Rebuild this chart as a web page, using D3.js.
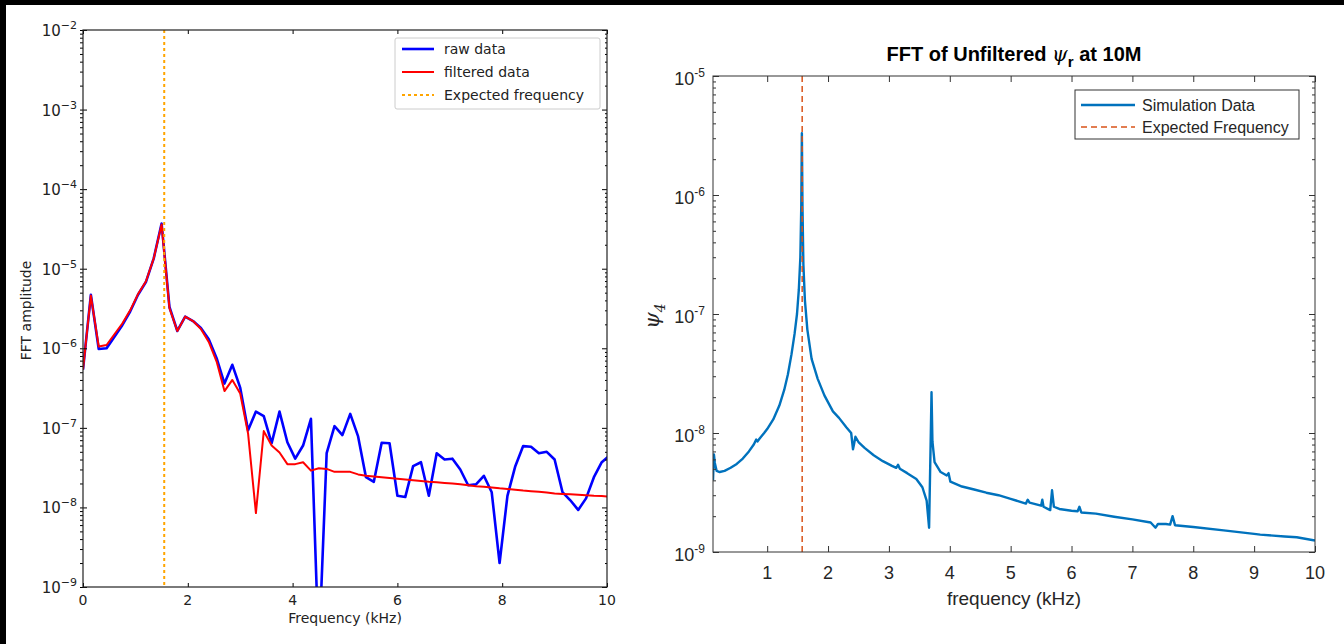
<!DOCTYPE html>
<html>
<head>
<meta charset="utf-8">
<script src="https://cdnjs.cloudflare.com/ajax/libs/d3/7.8.5/d3.min.js"></script>
<style>
body { margin: 0; background: #fff; }
svg { display: block; }
</style>
</head>
<body>
<div id="chart"></div>
<script>
/*
    Chart data
*/
// left panel: FFT bins (kHz), spacing 0.15
var leftFreq = [0.00, 0.15, 0.30, 0.45, 0.60, 0.75, 0.90, 1.05, 1.20, 1.35,
    1.50, 1.65, 1.80, 1.95, 2.10, 2.25, 2.40, 2.55, 2.70, 2.85,
    3.00, 3.15, 3.30, 3.45, 3.60, 3.75, 3.90, 4.05, 4.20, 4.35,
    4.50, 4.65, 4.80, 4.95, 5.10, 5.25, 5.40, 5.55, 5.70, 5.85,
    6.00, 6.15, 6.30, 6.45, 6.60, 6.75, 6.90, 7.05, 7.20, 7.35,
    7.50, 7.65, 7.80, 7.95, 8.10, 8.25, 8.40, 8.55, 8.70, 8.85,
    9.00, 9.15, 9.30, 9.45, 9.60, 9.75, 9.90, 10.05];

var rawData = [5.4e-7, 4.7e-6, 9.8e-7, 1.0e-6, 1.4e-6, 1.95e-6, 2.9e-6, 4.7e-6, 6.8e-6, 1.35e-5,
    3.7e-5, 3.3e-6, 1.65e-6, 2.5e-6, 2.2e-6, 1.8e-6, 1.3e-6, 7.5e-7, 3.6e-7, 6.2e-7,
    3.2e-7, 9.3e-8, 1.6e-7, 1.4e-7, 6.4e-8, 1.6e-7, 6.6e-8, 4.1e-8, 6.0e-8, 1.3e-7,
    1.5e-10, 4.8e-8, 1.05e-7, 8.1e-8, 1.5e-7, 7.8e-8, 2.4e-8, 2.1e-8, 6.5e-8, 6.4e-8,
    1.4e-8, 1.35e-8, 3.3e-8, 3.7e-8, 1.4e-8, 4.8e-8, 4.0e-8, 4.1e-8, 3.0e-8, 1.9e-8,
    1.95e-8, 2.5e-8, 1.55e-8, 2.0e-9, 1.4e-8, 3.3e-8, 5.9e-8, 5.8e-8, 4.8e-8, 5.0e-8,
    4.0e-8, 1.56e-8, 1.23e-8, 9.3e-9, 1.3e-8, 2.4e-8, 3.7e-8, 4.5e-8];

var filteredData = [5.4e-7, 4.6e-6, 1.05e-6, 1.1e-6, 1.5e-6, 2.05e-6, 3.0e-6, 4.8e-6, 6.9e-6, 1.35e-5,
    3.6e-5, 3.2e-6, 1.65e-6, 2.5e-6, 2.2e-6, 1.75e-6, 1.2e-6, 6.8e-7, 2.9e-7, 4.0e-7,
    2.7e-7, 8.5e-8, 8.5e-9, 9.1e-8, 6.0e-8, 4.9e-8, 3.5e-8, 3.5e-8, 3.7e-8, 2.9e-8,
    3.1e-8, 3.05e-8, 2.8e-8, 2.8e-8, 2.8e-8, 2.6e-8, 2.5e-8, 2.45e-8, 2.4e-8, 2.35e-8,
    2.3e-8, 2.25e-8, 2.2e-8, 2.15e-8, 2.1e-8, 2.07e-8, 2.03e-8, 2.0e-8, 1.95e-8, 1.9e-8,
    1.85e-8, 1.82e-8, 1.78e-8, 1.74e-8, 1.71e-8, 1.67e-8, 1.63e-8, 1.6e-8, 1.57e-8, 1.54e-8,
    1.5e-8, 1.48e-8, 1.46e-8, 1.44e-8, 1.42e-8, 1.4e-8, 1.39e-8, 1.37e-8];

var leftExpected = 1.55;
var leftXTicks = [0, 2, 4, 6, 8, 10];
var leftYExps = [-9, -8, -7, -6, -5, -4, -3, -2];
var leftLegend = ["raw data", "filtered data", "Expected frequency"];

// right panel: simulation spectrum
var rightFreq = [0.11, 0.125, 0.14, 0.17, 0.22, 0.30, 0.40, 0.50, 0.60, 0.70,
    0.78, 0.82, 0.84, 0.87, 0.95, 1.00, 1.10, 1.20, 1.28, 1.34,
    1.40, 1.45, 1.49, 1.52, 1.545, 1.56, 1.57, 1.58, 1.595, 1.62,
    1.66, 1.73, 1.83, 1.94, 2.08, 2.18, 2.30, 2.38, 2.41, 2.43,
    2.45, 2.50, 2.60, 2.75, 2.90, 3.05, 3.12, 3.15, 3.18, 3.30,
    3.45, 3.55, 3.62, 3.66, 3.685, 3.70, 3.715, 3.75, 3.85, 3.95,
    3.98, 4.01, 4.20, 4.40, 4.60, 4.80, 5.00, 5.25, 5.28, 5.31,
    5.50, 5.52, 5.54, 5.65, 5.68, 5.71, 5.80, 6.00, 6.10, 6.13,
    6.16, 6.40, 6.70, 7.00, 7.30, 7.38, 7.42, 7.55, 7.62, 7.66,
    7.70, 8.00, 8.50, 9.00, 9.10, 9.50, 9.70, 10.00];

var simData = [4.0e-9, 6.6e-9, 5.6e-9, 4.8e-9, 4.7e-9, 4.8e-9, 5.1e-9, 5.5e-9, 6.1e-9, 7.0e-9,
    8.0e-9, 8.8e-9, 8.5e-9, 8.9e-9, 1.0e-8, 1.08e-8, 1.3e-8, 1.7e-8, 2.3e-8, 3.1e-8,
    4.6e-8, 6.8e-8, 1.0e-7, 1.6e-7, 3.0e-7, 8.0e-7, 3.3e-6, 8.0e-7, 2.6e-7, 1.3e-7,
    7.4e-8, 4.2e-8, 2.85e-8, 2.07e-8, 1.52e-8, 1.34e-8, 1.12e-8, 1.0e-8, 7.3e-9, 8.2e-9,
    9.3e-9, 8.4e-9, 7.5e-9, 6.5e-9, 5.8e-9, 5.3e-9, 5.1e-9, 5.4e-9, 5.0e-9, 4.6e-9,
    4.1e-9, 3.5e-9, 2.7e-9, 1.6e-9, 8.0e-9, 2.2e-8, 8.5e-9, 5.7e-9, 4.7e-9, 4.4e-9,
    4.6e-9, 3.9e-9, 3.55e-9, 3.35e-9, 3.15e-9, 3.0e-9, 2.8e-9, 2.55e-9, 2.75e-9, 2.6e-9,
    2.45e-9, 2.75e-9, 2.4e-9, 2.25e-9, 3.3e-9, 2.4e-9, 2.3e-9, 2.22e-9, 2.2e-9, 2.4e-9,
    2.15e-9, 2.1e-9, 1.98e-9, 1.88e-9, 1.77e-9, 1.6e-9, 1.72e-9, 1.72e-9, 1.7e-9, 2.0e-9,
    1.68e-9, 1.62e-9, 1.52e-9, 1.42e-9, 1.4e-9, 1.35e-9, 1.33e-9, 1.25e-9];

var rightExpected = 1.575;
var rightXTicks = [1, 2, 3, 4, 5, 6, 7, 8, 9, 10];
var rightYExps = [-9, -8, -7, -6, -5];
var rightLegend = ["Simulation Data", "Expected Frequency"];

/*
    Page size and the two plot boxes
*/
var width = 1344;
var height = 644;
var leftBox = { left: 83, right: 607, top: 30, bottom: 587 };
var rightBox = { left: 713, right: 1315, top: 76, bottom: 552 };

var svg = d3.select("#chart")
    .append("svg")
    .attr("width", width)
    .attr("height", height);

svg.append("rect").attr("width", width).attr("height", height).attr("fill", "#fff");

// black edges of the screenshot
svg.append("rect").attr("x", 0).attr("y", 0).attr("width", width).attr("height", 5).attr("fill", "#000");
svg.append("rect").attr("x", 0).attr("y", 0).attr("width", 6).attr("height", height).attr("fill", "#000");

/* minor tick values for a log axis between two decades */
function minorTicks(lo, hi) {
    var out = [];
    for (var e = lo; e < hi; e++) {
        for (var m = 2; m <= 9; m++) out.push(m * Math.pow(10, e));
    }
    return out;
}

function supLabel(g, x, y, exp, base, sup, font, minus, dy) {
    var t = g.append("text")
        .attr("x", x)
        .attr("y", y)
        .attr("text-anchor", "end")
        .style("font-family", font)
        .attr("fill", g.attr("data-color") || "#000");
    t.append("tspan").style("font-size", base + "px").text("10");
    t.append("tspan").attr("dy", dy).style("font-size", sup + "px").text(minus + Math.abs(exp));
}

/*
    LEFT PANEL (matplotlib style)
*/
var lx = d3.scaleLinear().domain([0, 10]).range([leftBox.left, leftBox.right]);
var ly = d3.scaleLog().domain([1e-9, 1e-2]).range([leftBox.bottom, leftBox.top]);
var leftFont = "'DejaVu Sans', sans-serif";

var left = svg.append("g").attr("class", "left-panel").attr("data-color", "#222");

left.append("clipPath").attr("id", "clipLeft")
    .append("rect")
    .attr("x", leftBox.left).attr("y", leftBox.top)
    .attr("width", leftBox.right - leftBox.left)
    .attr("height", leftBox.bottom - leftBox.top);

var leftLine = d3.line()
    .x(function (d, i) { return lx(leftFreq[i]); })
    .y(function (d) { return ly(d); });

var leftPlot = left.append("g").attr("clip-path", "url(#clipLeft)");

leftPlot.append("path")
    .datum(rawData)
    .attr("d", leftLine)
    .attr("fill", "none")
    .attr("stroke", "#0000ff")
    .attr("stroke-width", 2.6)
    .attr("stroke-linejoin", "round");

leftPlot.append("path")
    .datum(filteredData)
    .attr("d", leftLine)
    .attr("fill", "none")
    .attr("stroke", "#ff0000")
    .attr("stroke-width", 2)
    .attr("stroke-linejoin", "round");

leftPlot.append("line")
    .attr("x1", lx(leftExpected)).attr("x2", lx(leftExpected))
    .attr("y1", leftBox.top).attr("y2", leftBox.bottom)
    .attr("stroke", "#ffa500")
    .attr("stroke-width", 2)
    .attr("stroke-dasharray", "3,3");

// ticks (all four sides, pointing in)
function cleanAxis(g) {
    g.select(".domain").remove();
    g.selectAll(".tick line").attr("stroke", "#000");
}
left.append("g").attr("transform", "translate(0," + leftBox.bottom + ")")
    .call(d3.axisBottom(lx).tickValues(leftXTicks).tickSize(-4).tickFormat(""))
    .call(cleanAxis);
left.append("g").attr("transform", "translate(0," + leftBox.top + ")")
    .call(d3.axisTop(lx).tickValues(leftXTicks).tickSize(-4).tickFormat(""))
    .call(cleanAxis);
left.append("g").attr("transform", "translate(" + leftBox.left + ",0)")
    .call(d3.axisLeft(ly).tickValues(leftYExps.map(function (e) { return Math.pow(10, e); })).tickSize(4).tickFormat(""))
    .call(cleanAxis)
    .selectAll(".tick line").attr("x2", 4).attr("x1", -3);
left.append("g").attr("transform", "translate(" + leftBox.left + ",0)")
    .call(d3.axisLeft(ly).tickValues(minorTicks(-9, -2)).tickSize(3).tickFormat(""))
    .call(cleanAxis);
left.append("g").attr("transform", "translate(" + leftBox.right + ",0)")
    .call(d3.axisRight(ly).tickValues(leftYExps.map(function (e) { return Math.pow(10, e); })).tickSize(-5).tickFormat(""))
    .call(cleanAxis);
left.append("g").attr("transform", "translate(" + leftBox.right + ",0)")
    .call(d3.axisRight(ly).tickValues(minorTicks(-9, -2)).tickSize(-2).tickFormat(""))
    .call(cleanAxis);

left.append("rect")
    .attr("x", leftBox.left).attr("y", leftBox.top)
    .attr("width", leftBox.right - leftBox.left)
    .attr("height", leftBox.bottom - leftBox.top)
    .attr("fill", "none")
    .attr("stroke", "#222")
    .attr("stroke-width", 1.2);

// tick labels
leftXTicks.forEach(function (t) {
    left.append("text")
        .attr("x", lx(t)).attr("y", leftBox.bottom + 18)
        .attr("text-anchor", "middle")
        .style("font-family", leftFont)
        .style("font-size", "14px")
        .attr("fill", "#222")
        .text(t);
});
leftYExps.forEach(function (e) {
    supLabel(left, leftBox.left - 6, ly(Math.pow(10, e)) + 6, e, 15, 11, leftFont, "\u2212", -7);
});

left.append("text")
    .attr("x", (leftBox.left + leftBox.right) / 2).attr("y", 623)
    .attr("text-anchor", "middle")
    .style("font-family", leftFont).style("font-size", "14px")
    .attr("fill", "#222")
    .text("Frequency (kHz)");

left.append("text")
    .attr("transform", "translate(31," + ((leftBox.top + leftBox.bottom) / 2 + 2) + ") rotate(-90)")
    .attr("text-anchor", "middle")
    .style("font-family", leftFont).style("font-size", "14px")
    .attr("fill", "#222")
    .text("FFT amplitude");

// legend
var leftLegendG = left.append("g");
leftLegendG.append("rect")
    .attr("x", 395).attr("y", 38).attr("width", 205).attr("height", 71)
    .attr("rx", 2)
    .attr("fill", "#fff").attr("stroke", "#cccccc").attr("stroke-width", 1);
var leftLegendStyle = [
    { color: "#0000ff", dash: null, w: 2.6 },
    { color: "#ff0000", dash: null, w: 2 },
    { color: "#ffa500", dash: "3,3", w: 2 }
];
leftLegend.forEach(function (name, i) {
    var yy = 49 + i * 23;
    leftLegendG.append("line")
        .attr("x1", 402).attr("x2", 434).attr("y1", yy).attr("y2", yy)
        .attr("stroke", leftLegendStyle[i].color)
        .attr("stroke-width", leftLegendStyle[i].w)
        .attr("stroke-dasharray", leftLegendStyle[i].dash);
    leftLegendG.append("text")
        .attr("x", 444).attr("y", yy + 5)
        .style("font-family", leftFont).style("font-size", "14px")
        .attr("fill", "#222")
        .text(name);
});

/*
    RIGHT PANEL (MATLAB style)
*/
var rx = d3.scaleLinear().domain([0.11, 10]).range([rightBox.left, rightBox.right]);
var ry = d3.scaleLog().domain([1e-9, 1e-5]).range([rightBox.bottom, rightBox.top]);
var rightFont = "'Liberation Sans', Arial, sans-serif";
var axisGray = "#333";

var right = svg.append("g").attr("class", "right-panel").attr("data-color", "#262626");

right.append("clipPath").attr("id", "clipRight")
    .append("rect")
    .attr("x", rightBox.left).attr("y", rightBox.top)
    .attr("width", rightBox.right - rightBox.left)
    .attr("height", rightBox.bottom - rightBox.top);

var rightLine = d3.line()
    .x(function (d, i) { return rx(rightFreq[i]); })
    .y(function (d) { return ry(d); });

var rightPlot = right.append("g").attr("clip-path", "url(#clipRight)");

rightPlot.append("path")
    .datum(simData)
    .attr("d", rightLine)
    .attr("fill", "none")
    .attr("stroke", "#0072BD")
    .attr("stroke-width", 2.4)
    .attr("stroke-linejoin", "round");

rightPlot.append("line")
    .attr("x1", rx(rightExpected)).attr("x2", rx(rightExpected))
    .attr("y1", rightBox.top).attr("y2", rightBox.bottom)
    .attr("stroke", "#D95319")
    .attr("stroke-width", 1.5)
    .attr("stroke-dasharray", "6,4");

function grayAxis(g) {
    g.select(".domain").remove();
    g.selectAll(".tick line").attr("stroke", axisGray);
}
var rMajorY = rightYExps.map(function (e) { return Math.pow(10, e); });
right.append("g").attr("transform", "translate(0," + rightBox.bottom + ")")
    .call(d3.axisBottom(rx).tickValues(rightXTicks).tickSize(-6).tickFormat(""))
    .call(grayAxis);
right.append("g").attr("transform", "translate(0," + rightBox.top + ")")
    .call(d3.axisTop(rx).tickValues(rightXTicks).tickSize(-6).tickFormat(""))
    .call(grayAxis);
right.append("g").attr("transform", "translate(" + rightBox.left + ",0)")
    .call(d3.axisLeft(ry).tickValues(rMajorY).tickSize(-6).tickFormat(""))
    .call(grayAxis);
right.append("g").attr("transform", "translate(" + rightBox.left + ",0)")
    .call(d3.axisLeft(ry).tickValues(minorTicks(-9, -5)).tickSize(-3).tickFormat(""))
    .call(grayAxis);
right.append("g").attr("transform", "translate(" + rightBox.right + ",0)")
    .call(d3.axisRight(ry).tickValues(rMajorY).tickSize(-6).tickFormat(""))
    .call(grayAxis);
right.append("g").attr("transform", "translate(" + rightBox.right + ",0)")
    .call(d3.axisRight(ry).tickValues(minorTicks(-9, -5)).tickSize(-3).tickFormat(""))
    .call(grayAxis);

right.append("rect")
    .attr("x", rightBox.left).attr("y", rightBox.top)
    .attr("width", rightBox.right - rightBox.left)
    .attr("height", rightBox.bottom - rightBox.top)
    .attr("fill", "none")
    .attr("stroke", axisGray)
    .attr("stroke-width", 1);

rightXTicks.forEach(function (t) {
    right.append("text")
        .attr("x", rx(t)).attr("y", rightBox.bottom + 27)
        .attr("text-anchor", "middle")
        .style("font-family", rightFont).style("font-size", "18px")
        .attr("fill", "#262626")
        .text(t);
});
rightYExps.forEach(function (e) {
    supLabel(right, rightBox.left - 8, ry(Math.pow(10, e)) + 9, e, 18, 12, rightFont, "-", -8);
});

right.append("text")
    .attr("x", (rightBox.left + rightBox.right) / 2).attr("y", 605)
    .attr("text-anchor", "middle")
    .style("font-family", rightFont).style("font-size", "19px")
    .attr("fill", "#262626")
    .text("frequency (kHz)");

// y label: psi_4
var psiLabel = right.append("text")
    .attr("transform", "translate(659,316) rotate(-90)")
    .attr("text-anchor", "middle")
    .style("font-family", "'DejaVu Serif', serif")
    .attr("fill", "#262626");
psiLabel.append("tspan").style("font-size", "21px").style("font-style", "italic").text("\u03c8");
psiLabel.append("tspan").attr("dy", 6).style("font-size", "14px").style("font-style", "italic").text("4");

// title
var title = right.append("text")
    .attr("x", (rightBox.left + rightBox.right) / 2).attr("y", 61)
    .attr("text-anchor", "middle")
    .style("font-family", rightFont).style("font-size", "20px")
    .style("font-weight", "bold")
    .attr("fill", "#000");
title.append("tspan").text("FFT of Unfiltered ");
title.append("tspan").style("font-family", "'DejaVu Serif', serif").style("font-style", "italic").style("font-weight", "normal").text("\u03c8");
title.append("tspan").attr("dy", 6).style("font-size", "15px").text("r");
title.append("tspan").attr("dy", -6).text(" at 10M");

// legend
var rightLegendG = right.append("g");
rightLegendG.append("rect")
    .attr("x", 1075).attr("y", 90).attr("width", 224).attr("height", 49)
    .attr("fill", "#fff").attr("stroke", axisGray).attr("stroke-width", 1);
var rightLegendStyle = [
    { color: "#0072BD", dash: null, w: 2.4 },
    { color: "#D95319", dash: "6,4", w: 1.5 }
];
rightLegend.forEach(function (name, i) {
    var yy = 105 + i * 22;
    rightLegendG.append("line")
        .attr("x1", 1081).attr("x2", 1135).attr("y1", yy).attr("y2", yy)
        .attr("stroke", rightLegendStyle[i].color)
        .attr("stroke-width", rightLegendStyle[i].w)
        .attr("stroke-dasharray", rightLegendStyle[i].dash);
    rightLegendG.append("text")
        .attr("x", 1142).attr("y", yy + 6)
        .style("font-family", rightFont).style("font-size", "16px")
        .attr("fill", "#262626")
        .text(name);
});
</script>
</body>
</html>
